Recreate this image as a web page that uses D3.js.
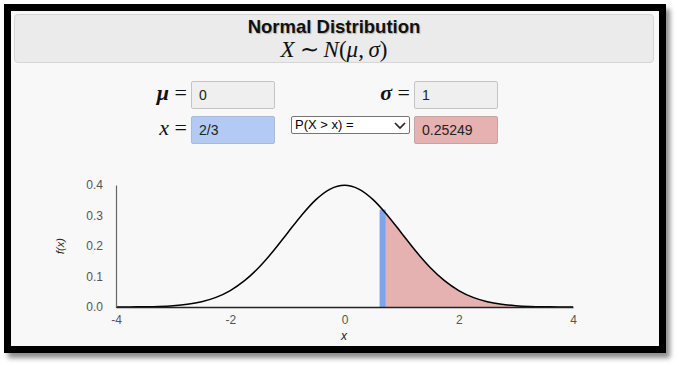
<!DOCTYPE html>
<html>
<head>
<meta charset="utf-8">
<script src="https://cdn.jsdelivr.net/npm/d3@7"></script>
<style>
  body { margin: 0; background: #fff; font-family: "Liberation Sans", Arial, sans-serif; }
  #frame {
    position: absolute; left: 4px; top: 4px; width: 648px; height: 335px;
    border: 7px solid #000; background: #f8f8f8;
    box-shadow: 4px 5px 5px rgba(0,0,0,0.45);
  }
  #header {
    position: absolute; left: 3px; top: 3px; width: 638px; height: 47px;
    background: #ebebeb; border: 1px solid #d6d6d6; border-radius: 4px; text-align: center;
  }
  #header .t { position: absolute; left: 0; right: 0; top: 3px; font-size: 18.5px; line-height: 18px; font-weight: bold; color: #111; text-shadow: 1px 1px 1px rgba(0,0,0,0.25); }
  #header .m { position: absolute; left: 0; right: 0; top: 23px; font-family: "Liberation Serif", serif; font-size: 23px; line-height: 24px; color: #111; }
  #header .m .rel { padding: 0 5px; }
  .lbl { position: absolute; font-family: "Liberation Serif", serif; font-size: 22px; text-align: right; width: 60px; color: #111; }
  .box {
    position: absolute; border: 1px solid #c4c4c4; border-radius: 2px;
    background: #efefef; font-size: 14px; line-height: 26px; padding-left: 7px; box-sizing: border-box; width: 84px; height: 28px; color: #222;
  }
  #sel {
    position: absolute; left: 280px; top: 105px; width: 119px; height: 18px; box-sizing: border-box;
    border: 1px solid #767676; border-radius: 2px; background: #fff; font-size: 13px; line-height: 16px; padding-left: 3px; color: #000;
  }
  svg { position: absolute; left: 0; top: 0; }
</style>
</head>
<body>
<div id="frame">
  <div id="header">
    <div class="t">Normal Distribution</div>
    <div class="m"><i>X</i><span class="rel">∼</span><i>N</i>(<i>μ</i>,&thinsp;<i>σ</i>)</div>
  </div>
  <div class="lbl" style="left:116px;top:69px"><b><i>μ</i></b> =</div>
  <div class="box" style="left:180px;top:70px">0</div>
  <div class="lbl" style="left:339px;top:69px"><b><i>σ</i></b> =</div>
  <div class="box" style="left:403px;top:70px">1</div>
  <div class="lbl" style="left:116px;top:104px"><i>x</i> =</div>
  <div class="box" style="left:180px;top:105px;background:#b3cbf4;border-color:#a9b9d6">2/3</div>
  <div id="sel">P(X &gt; x) =
    <svg width="12" height="8" style="position:absolute;left:102px;top:5px"><path d="M1,1 L6,6 L11,1" fill="none" stroke="#222" stroke-width="1.6"/></svg>
  </div>
  <div class="box" style="left:403px;top:105px;background:#e6b1b1;border-color:#c9a3a3">0.25249</div>
</div>
<svg id="chart" width="679" height="366"></svg>
<script>
// standard normal density, tabulated
const xs = [-4, -3.75, -3.5, -3.25, -3, -2.75, -2.5, -2.25, -2, -1.75, -1.5, -1.25, -1, -0.75, -0.5, -0.25,
            0, 0.25, 0.5, 0.75, 1, 1.25, 1.5, 1.75, 2, 2.25, 2.5, 2.75, 3, 3.25, 3.5, 3.75, 4];
const fx = [0.0001, 0.0004, 0.0009, 0.0020, 0.0044, 0.0091, 0.0175, 0.0317, 0.0540, 0.0863, 0.1295, 0.1826, 0.2420, 0.3011, 0.3521, 0.3867,
            0.3989, 0.3867, 0.3521, 0.3011, 0.2420, 0.1826, 0.1295, 0.0863, 0.0540, 0.0317, 0.0175, 0.0091, 0.0044, 0.0020, 0.0009, 0.0004, 0.0001];
const xTicks = [-4, -2, 0, 2, 4];
const yTicks = [0, 0.1, 0.2, 0.3, 0.4];
const xValue = 2 / 3;
const fxAtValue = 0.3194;

const svg = d3.select('#chart');
const x = d3.scaleLinear().domain([-4, 4]).range([116, 573]);
const y = d3.scaleLinear().domain([0, 0.4]).range([307, 185]);

const pts = xs.map((d, i) => [d, fx[i]]);
const tail = [[xValue, fxAtValue]].concat(pts.filter(p => p[0] > xValue));

// shaded tail
svg.append('path')
   .datum(tail)
   .attr('fill', '#e6b1b1')
   .attr('d', d3.area().x(d => x(d[0])).y0(y(0)).y1(d => y(d[1])).curve(d3.curveMonotoneX));

// marker at x
svg.append('line')
   .attr('x1', x(xValue)).attr('x2', x(xValue))
   .attr('y1', y(0)).attr('y2', y(fxAtValue))
   .attr('stroke', '#7fa4ee').attr('stroke-width', 6);

svg.append('path')
   .datum(pts)
   .attr('fill', 'none')
   .attr('stroke', '#000')
   .attr('stroke-width', 1.5)
   .attr('d', d3.line().x(d => x(d[0])).y(d => y(d[1])).curve(d3.curveMonotoneX));

const xAxis = svg.append('g')
   .attr('transform', 'translate(0,' + y(0) + ')')
   .call(d3.axisBottom(x).tickValues(xTicks).tickSize(0).tickPadding(8).tickFormat(d => String(d)));
const yAxis = svg.append('g')
   .attr('transform', 'translate(' + x(-4) + ',0)')
   .call(d3.axisLeft(y).tickValues(yTicks).tickSize(0).tickPadding(13).tickFormat(d => d.toFixed(1)));

xAxis.select('.domain').attr('stroke', '#222').attr('stroke-width', 1.5);
yAxis.select('.domain').attr('stroke', '#666').attr('stroke-width', 1.2);
svg.selectAll('.tick text').attr('fill', '#555').style('font-size', '12px').style('font-family', 'Liberation Sans, Arial, sans-serif');

svg.append('text')
   .attr('x', 344).attr('y', 340)
   .attr('text-anchor', 'middle')
   .style('font-size', '12px').style('font-style', 'italic').attr('fill', '#222')
   .style('font-family', 'Liberation Sans, Arial, sans-serif')
   .text('x');
svg.append('text')
   .attr('transform', 'translate(64,246) rotate(-90)')
   .attr('text-anchor', 'middle')
   .style('font-size', '11px').style('font-style', 'italic').attr('fill', '#222')
   .style('font-family', 'Liberation Sans, Arial, sans-serif')
   .text('f(x)');
</script>
</body>
</html>
